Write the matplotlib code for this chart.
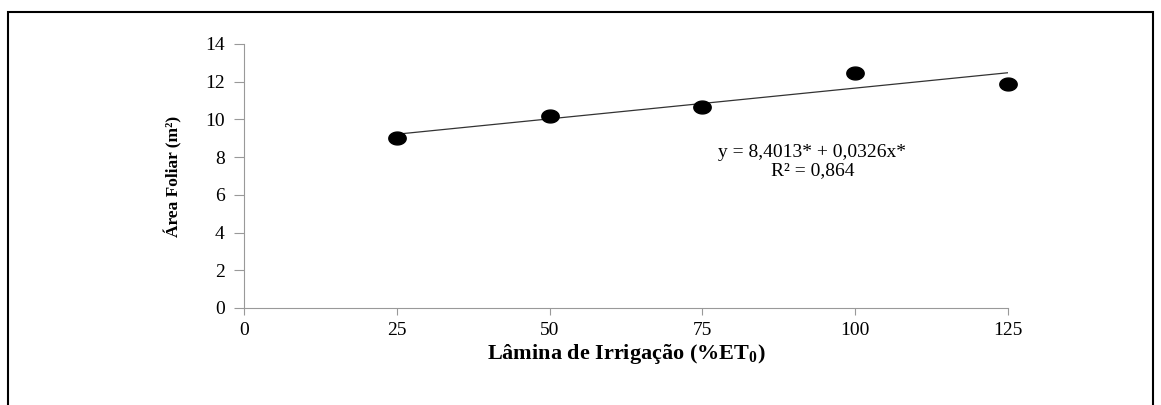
import numpy as np
import matplotlib
matplotlib.use("Agg")
import matplotlib.pyplot as plt
from matplotlib.path import Path
from matplotlib.patches import Rectangle

plt.rcParams.update({"font.family": ["Liberation Serif", "DejaVu Serif"], "font.size": 11,
                     "mathtext.fontset": "custom", "mathtext.rm": "Liberation Serif",
                     "mathtext.bf": "Liberation Serif:bold"})

# data
lamina = [25, 50, 75, 100, 125]
area_foliar = [9.0, 10.2, 10.65, 12.45, 11.9]
coef_a, coef_b = 8.4013, 0.0326
x_ticks = [0, 25, 50, 75, 100, 125]
y_ticks = [0, 2, 4, 6, 8, 10, 12, 14]

fig = plt.figure(figsize=(11.61, 4.05), dpi=100)
ax = fig.add_axes([244 / 1161, 1 - 308 / 405, (1008 - 244) / 1161, (308 - 44) / 405])

# slightly flattened dots as in the original
t = np.linspace(0, 2 * np.pi, 60)
ellipse = Path(np.column_stack([1.35 * np.cos(t), np.sin(t)]), closed=True)

xf = np.array([lamina[0], lamina[-1]])
ax.plot(xf, coef_a + coef_b * xf, color="#333333", lw=0.9, zorder=2)
ax.plot(lamina, area_foliar, ls="none", marker=ellipse, ms=12.5, color="black",
        zorder=3, clip_on=False)

ax.text(93, 8.25, "y = 8,4013* + 0,0326x*", ha="center", va="center", fontsize=14)
ax.text(93, 7.3, "R² = 0,864", ha="center", va="center", fontsize=14)

ax.set_xlim(0, 125)
ax.set_ylim(0, 14)
ax.set_xticks(x_ticks)
ax.set_yticks(y_ticks)
for s in ("top", "right"):
    ax.spines[s].set_visible(False)
for s in ("left", "bottom"):
    ax.spines[s].set_color("#999999")
ax.tick_params(axis="y", length=7, color="#999999", labelsize=14, pad=7)
ax.tick_params(axis="x", length=5, color="#999999", labelsize=14, pad=5)

ax.set_xlabel(r"Lâmina de Irrigação (%ET$_\mathbf{0}$)", fontsize=16, fontweight="bold", labelpad=2)
ax.set_ylabel("Área Foliar (m²)", fontsize=12.5, fontweight="bold", labelpad=16)

fig.patches.append(Rectangle((8 / 1161, -0.1), (1153 - 8) / 1161, 1 - 12 / 405 + 0.1,
                             transform=fig.transFigure, fill=False, ec="black", lw=1.5))

fig.savefig("out.png", dpi=100)
